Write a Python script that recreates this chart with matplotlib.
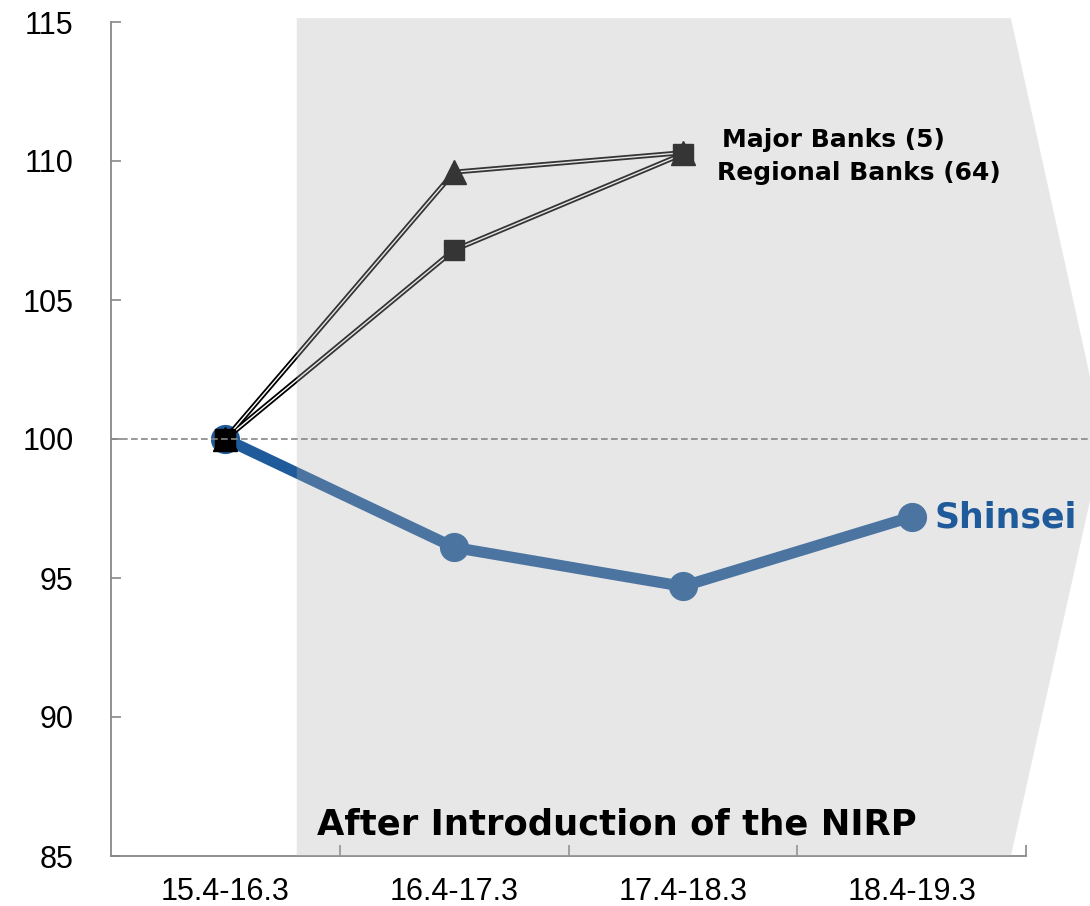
import matplotlib
matplotlib.use("Agg")
import matplotlib.pyplot as plt
from matplotlib.patches import Polygon

periods = ["15.4-16.3", "16.4-17.3", "17.4-18.3", "18.4-19.3"]
shinsei = [100, 96.1, 94.7, 97.2]
major_banks = [100, 109.6, 110.3]      # triangles
regional_banks = [100, 106.8, 110.25]  # squares
y_ticks = [85, 90, 95, 100, 105, 110, 115]

plt.rcParams['font.family'] = ['Liberation Sans', 'DejaVu Sans']

fig = plt.figure(figsize=(10.9, 9.06), dpi=100)
ax = fig.add_axes([111/1090, 50/906, (1026-111)/1090, (856-22)/906])
ax.set_xlim(-0.5, 3.5)
ax.set_ylim(85, 115)

x = list(range(len(periods)))
blue = "#1f5b9b"
ax.plot(x, shinsei, color=blue, lw=8, marker='o', ms=20, zorder=2, solid_capstyle='round')

xb = x[:3]
for vals, mk, ms in [(major_banks, '^', 17), (regional_banks, 's', 15)]:
    ax.plot(xb, vals, color='black', lw=3.6, zorder=3)
    ax.plot(xb, vals, color='white', lw=1.0, zorder=3.1)
    ax.plot(xb, vals, linestyle='none', marker=mk, ms=ms, color='black', zorder=3.2)

# shaded "after NIRP" region (arrow shape)
poly = Polygon([(0.312, 115.14), (3.434, 115.14), (3.84, 100.0), (3.434, 85.0), (0.312, 85.0)],
               closed=True, facecolor="#b1b1b1", alpha=0.3, edgecolor='none',
               zorder=4, clip_on=False)
ax.add_patch(poly)

ax.plot([-0.5, 3.84], [100, 100], color="#888888", lw=1.2, ls=(0, (4, 2)), zorder=5, clip_on=False)

bold_fam = ['DejaVu Sans']
ax.text(2.172, 110.76, "Major Banks (5)", fontsize=18, fontweight='bold', family=bold_fam,
        va='center', ha='left', color='black', zorder=6)
ax.text(2.151, 109.57, "Regional Banks (64)", fontsize=18, fontweight='bold', family=bold_fam,
        va='center', ha='left', color='black', zorder=6)
ax.text(3.10, 97.19, "Shinsei", fontsize=25, fontweight='bold', family=bold_fam,
        va='center', ha='left', color=blue, zorder=6)
ax.text(0.40, 86.12, "After Introduction of the NIRP", fontsize=25.5, fontweight='bold',
        family=bold_fam, va='center', ha='left', color='black', zorder=6)

for s in ['top', 'right']:
    ax.spines[s].set_visible(False)
for s in ['left', 'bottom']:
    ax.spines[s].set_color('#888888')
    ax.spines[s].set_linewidth(1.3)

ax.set_facecolor('none')
ax.set_xticks(x)
ax.set_xticklabels(periods, fontsize=22)
ax.set_xticks([0.5, 1.5, 2.5, 3.5], minor=True)
ax.tick_params(axis='x', which='major', length=0, pad=15)
ax.tick_params(axis='x', which='minor', direction='in', length=8, color='#888888', width=1.2)
ax.set_yticks(y_ticks)
ax.set_yticklabels([str(v) for v in y_ticks], fontsize=22)
ax.tick_params(axis='y', direction='in', length=7, color='#888888', width=1.2, pad=27)

fig.savefig("out.png", dpi=100)
